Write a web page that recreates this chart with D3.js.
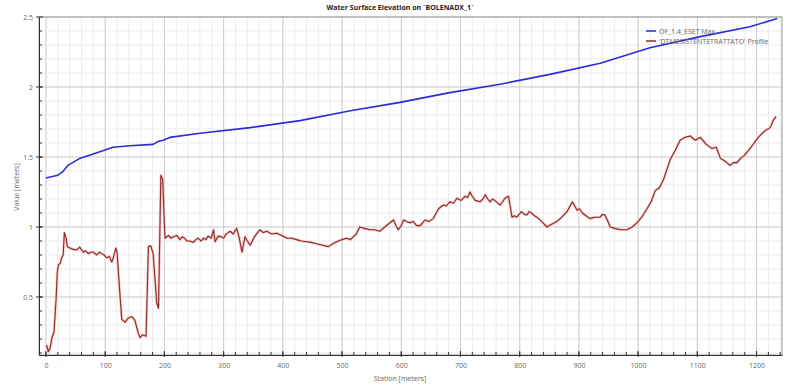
<!DOCTYPE html>
<html><head><meta charset="utf-8">
<script src="https://cdn.jsdelivr.net/npm/d3@7"></script>
<style>body{margin:0;background:#fff}svg{display:block}</style>
</head><body><svg id="c" width="787" height="389"></svg>
<script>
const title = "Water Surface Elevation on `BOLENADX_1`";
const xLabel = "Station [meters]";
const yLabel = "Value [meters]";
const seriesNames = ["OF_1.4_ESET Max", "'DTMESISTENTETRATTATO' Profile"];
const xTicks = [0,100,200,300,400,500,600,700,800,900,1000,1100,1200];
const yTicks = [0.5,1,1.5,2,2.5];
const wseStation = [0,20,27,37,57,86,113,142,181,189,198,209,260,345,429,514,598,682,767,851,936,1020,1105,1189,1235];
const wseValue   = [1.35,1.37,1.39,1.44,1.49,1.53,1.57,1.58,1.59,1.61,1.62,1.64,1.67,1.71,1.76,1.83,1.89,1.96,2.02,2.09,2.17,2.28,2.36,2.43,2.49];
const grStation = [1,4,7,10,13.5,17,19,21,24,26.5,29,31,34,36,40.5,46,52,57,63,67,71.5,76,80,86,90,94,98,102.5,107,111,113,118,120,124,128,133.5,139,145,150,156,159,163,169,173,177,181,187,190,194,197,201,207,211,215,221,226,230,234,238,243,249,253,257,262,266,270,274,279,283,285.5,291,296,300,304,308,311,316,322,326,331,336,340,345,352,361,367,373,381,390,398,407,415,423,431,440,448,457,467,477,484,491,500,508,514,519,524,530,538,547,555,564,572,581,587,591,595,600,604,609,615,620,626,632,636,640,647,654,663,671,676,682,688,694,701,708,712,716,720,725,733,738,742,746,750,754,758,763,767,771,775,781,784,787,791,795,799,803,808,812,816,820,825,829,837,846,854,863,871,880,889,893,897,901,906,912,919,927,936,940,944,948,953,961,970,981,990,998,1006,1015,1022,1029,1036,1043,1054,1063,1071,1079,1088,1096,1105,1115,1125,1132,1139,1147,1155,1161,1167,1173,1179,1189,1196,1203,1210,1215,1223,1228,1233];
const grValue   = [0.157,0.11,0.136,0.207,0.25,0.48,0.67,0.73,0.74,0.78,0.80,0.96,0.92,0.86,0.85,0.84,0.836,0.856,0.82,0.83,0.81,0.82,0.82,0.80,0.82,0.81,0.80,0.78,0.79,0.75,0.77,0.85,0.82,0.57,0.34,0.32,0.35,0.36,0.335,0.24,0.21,0.23,0.22,0.86,0.865,0.81,0.457,0.42,1.37,1.34,0.92,0.94,0.92,0.93,0.94,0.91,0.93,0.92,0.90,0.90,0.89,0.91,0.92,0.90,0.92,0.91,0.935,0.92,0.98,0.895,0.935,0.93,0.92,0.95,0.96,0.97,0.95,0.99,0.93,0.82,0.93,0.90,0.87,0.93,0.98,0.96,0.97,0.95,0.955,0.94,0.92,0.92,0.91,0.90,0.895,0.89,0.88,0.87,0.86,0.88,0.895,0.91,0.92,0.91,0.93,0.95,1.00,0.99,0.98,0.98,0.97,1.00,1.03,1.05,1.01,0.98,1.01,1.05,1.04,1.03,1.04,1.01,1.01,1.03,1.05,1.04,1.06,1.13,1.157,1.15,1.18,1.17,1.205,1.19,1.22,1.21,1.25,1.22,1.19,1.18,1.20,1.23,1.20,1.18,1.20,1.19,1.17,1.157,1.18,1.205,1.22,1.15,1.07,1.08,1.07,1.09,1.11,1.09,1.086,1.11,1.10,1.08,1.07,1.04,1.00,1.02,1.04,1.07,1.11,1.18,1.15,1.12,1.13,1.10,1.08,1.06,1.07,1.07,1.09,1.086,1.05,1.00,0.99,0.98,0.98,1.00,1.03,1.07,1.13,1.18,1.26,1.28,1.34,1.48,1.55,1.62,1.64,1.65,1.62,1.64,1.59,1.56,1.57,1.49,1.47,1.44,1.46,1.46,1.49,1.51,1.56,1.60,1.64,1.67,1.69,1.71,1.76,1.79];

const svg = d3.select("#c");
const L=39, R=782, T=17, B=355;
const x = d3.scaleLinear().domain([-11.8, 1243]).range([L, R]);
const y = d3.scaleLinear().domain([0.0857, 2.5]).range([B, T]);

const minorX = d3.range(0, 1241, 20);
const minorY = d3.range(1, 25).map(d => d/10);
svg.append("g").selectAll("line").data(minorX).join("line")
  .attr("x1", d=>x(d)).attr("x2", d=>x(d)).attr("y1", T).attr("y2", B)
  .attr("stroke", "#ececec").attr("stroke-width", 1);
svg.append("g").selectAll("line").data(minorY).join("line")
  .attr("y1", d=>y(d)).attr("y2", d=>y(d)).attr("x1", L).attr("x2", R)
  .attr("stroke", "#ececec").attr("stroke-width", 1);
svg.append("g").selectAll("line").data(xTicks).join("line")
  .attr("x1", d=>x(d)).attr("x2", d=>x(d)).attr("y1", T).attr("y2", B)
  .attr("stroke", "#cfcfcf").attr("stroke-width", 1);
svg.append("g").selectAll("line").data(yTicks).join("line")
  .attr("y1", d=>y(d)).attr("y2", d=>y(d)).attr("x1", L).attr("x2", R)
  .attr("stroke", "#cfcfcf").attr("stroke-width", 1);

svg.append("rect").attr("x", L).attr("y", T).attr("width", R-L).attr("height", B-T)
  .attr("fill", "none").attr("stroke", "#9a9a9a").attr("stroke-width", 1);

const xAxis = d3.axisBottom(x).tickValues(xTicks).tickSize(0).tickPadding(8).tickFormat(d3.format("d"));
const gx = svg.append("g").attr("transform", `translate(0,${B})`).call(xAxis);
const yAxis = d3.axisLeft(y).tickValues(yTicks).tickSize(0).tickPadding(6).tickFormat(d => String(d));
const gy = svg.append("g").attr("transform", `translate(${L},0)`).call(yAxis);
[gx, gy].forEach(g => {
  g.select(".domain").attr("stroke", "#333");
  g.selectAll("text").attr("fill", "#666").style("font-family", "Open Sans, sans-serif").style("font-size", "7px");
});
svg.append("g").selectAll("line").data(minorX).join("line")
  .attr("x1", d=>x(d)).attr("x2", d=>x(d)).attr("y1", B-3).attr("y2", B)
  .attr("stroke", "#333");
svg.append("g").selectAll("line").data(xTicks).join("line")
  .attr("x1", d=>x(d)).attr("x2", d=>x(d)).attr("y1", B-4).attr("y2", B+2)
  .attr("stroke", "#333");
svg.append("g").selectAll("line").data(minorY).join("line")
  .attr("y1", d=>y(d)).attr("y2", d=>y(d)).attr("x1", L).attr("x2", L+3)
  .attr("stroke", "#333");
svg.append("g").selectAll("line").data(yTicks).join("line")
  .attr("y1", d=>y(d)).attr("y2", d=>y(d)).attr("x1", L-3).attr("x2", L+4)
  .attr("stroke", "#333");

const wse = wseStation.map((s,i)=>[s, wseValue[i]]);
const gr = grStation.map((s,i)=>[s, grValue[i]]);
const line = d3.line().x(d=>x(d[0])).y(d=>y(d[1]));
svg.append("path").datum(gr).attr("d", line).attr("fill","none")
  .attr("stroke","#f3c4c4").attr("stroke-width",2.6).attr("stroke-linejoin","round");
svg.append("path").datum(gr).attr("d", line).attr("fill","none")
  .attr("stroke","#8a2b2a").attr("stroke-width",1.1).attr("stroke-linejoin","round");
svg.append("path").datum(wse).attr("d", line).attr("fill","none")
  .attr("stroke","#2b2bd8").attr("stroke-width",1.6).attr("stroke-linejoin","round");

const legColors = ["#2b2bd8", "#8a2b2a"];
const lg = svg.append("g").attr("transform", "translate(646,31)");
seriesNames.forEach((n,i) => {
  lg.append("line").attr("x1",0).attr("x2",10).attr("y1",i*10).attr("y2",i*10)
    .attr("stroke", legColors[i]).attr("stroke-width", 1.5);
  lg.append("text").attr("x",13).attr("y",i*10+2.5).text(n)
    .attr("fill","#666").style("font-family","Open Sans, sans-serif").style("font-size","7px");
});

svg.append("text").attr("x", 400).attr("y", 10).attr("text-anchor","middle").text(title)
  .style("font-family","Open Sans, sans-serif").style("font-size","7px").style("font-weight","bold").attr("fill","#222");
svg.append("text").attr("x", 400).attr("y", 381).attr("text-anchor","middle").text(xLabel)
  .style("font-family","Open Sans, sans-serif").style("font-size","7px").attr("fill","#666");
svg.append("text").attr("transform","translate(19,187) rotate(-90)").attr("text-anchor","middle").text(yLabel)
  .style("font-family","Open Sans, sans-serif").style("font-size","7px").attr("fill","#666");
</script></body></html>
